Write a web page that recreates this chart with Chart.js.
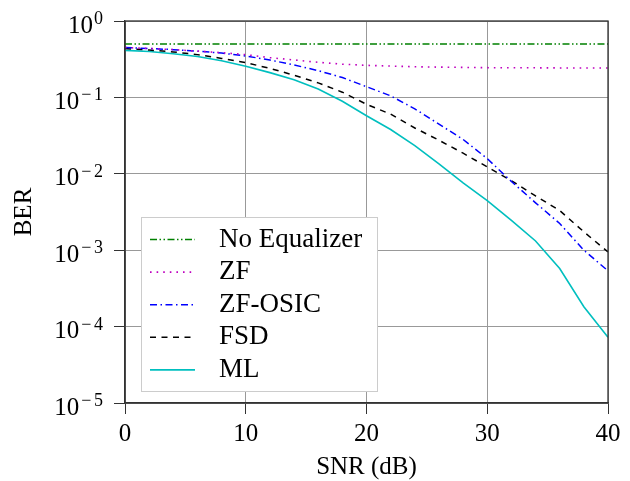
<!DOCTYPE html>
<html>
<head>
<meta charset="utf-8">
<script src="https://cdn.jsdelivr.net/npm/chart.js@4/dist/chart.umd.min.js"></script>
<style>
    body{
        margin:0;
        background:#fff;
    }
    #wrap{
        width:630px;
        height:481px;
    }
</style>
</head>
<body>
<div id="wrap">
    <canvas id="berChart"></canvas>
</div>
<script>

// SNR points (dB)
const snr = [0,2,4,6,8,10,12,14,16,18,20,22,24,26,28,30,32,34,36,38,40];

// BER
const noEqualizer = [0.5,0.5,0.5,0.5,0.5,0.5,0.5,0.5,0.5,0.5,0.5,0.5,0.5,0.5,0.5,0.5,0.5,0.5,0.5,0.5,0.5];
const zf = [0.449,0.437,0.422,0.403,0.385,0.363,0.331,0.309,0.288,0.272,0.263,0.257,0.252,0.249,0.247,0.245,0.244,0.244,0.243,0.243,0.243];
const zfOsic = [0.449,0.437,0.422,0.403,0.380,0.348,0.309,0.266,0.224,0.182,0.138,0.105,0.0708,0.0447,0.0282,0.0158,0.00794,0.00417,0.00224,0.00100,0.000537];
const fsd = [0.436,0.417,0.394,0.363,0.324,0.285,0.240,0.195,0.155,0.117,0.0813,0.0603,0.0398,0.0275,0.0186,0.0123,0.00813,0.00513,0.00331,0.00174,0.00095];
const ml = [0.413,0.398,0.372,0.343,0.302,0.255,0.211,0.170,0.129,0.0891,0.0575,0.0380,0.0234,0.0135,0.00759,0.00447,0.00245,0.00132,0.000575,0.000182,0.0000724];

// ticks
const xTicks = [0,10,20,30,40];
const yTicks = [1e-5,1e-4,1e-3,1e-2,1e-1,1];

const serif = "'Liberation Serif', 'Times New Roman', serif";

function pts(arr){
    return snr.map(function(s,i){
        return {x:s, y:arr[i]};
    });
}

// y labels as 10^n with a raised exponent
const powerLabels = {
    id:"powerLabels",
    afterDraw(chart){
        const ctx = chart.ctx;
        const y = chart.scales.y;
        const right = chart.chartArea.left - 22;
        ctx.save();
        ctx.fillStyle = "#000";
        ctx.textAlign = "right";
        ctx.textBaseline = "alphabetic";
        yTicks.forEach(function(v){
            const py = y.getPixelForValue(v);
            const e = Math.round(Math.log10(v));
            ctx.font = "18px " + serif;
            const digit = String(Math.abs(e));
            const dw = ctx.measureText(digit).width;
            ctx.fillText(digit, right, py + 3);
            let x10 = right - dw - 1;
            if(e < 0){
                const mx = right - dw - 2.5;
                ctx.fillText("\u2212", mx, py + 3);
                x10 = mx - ctx.measureText("\u2212").width - 2;
            }
            ctx.font = "25px " + serif;
            ctx.fillText("10", x10, py + 11.5);
        });
        ctx.restore();
    }
};

// frame on all four sides + legend inside plot
const frameAndLegend = {
    id:"frameAndLegend",
    afterDraw(chart){
        const ctx = chart.ctx;
        const a = chart.chartArea;
        ctx.save();
        ctx.strokeStyle = "#333";
        ctx.lineWidth = 1.3;
        ctx.strokeRect(a.left, a.top, a.right - a.left, a.bottom - a.top);

        const bx = a.left + 16;
        const by = a.top + 196;
        const bw = 236;
        const bh = 174;
        ctx.fillStyle = "#fff";
        ctx.fillRect(bx, by, bw, bh);
        ctx.strokeStyle = "#cccccc";
        ctx.lineWidth = 1;
        ctx.strokeRect(bx + 0.5, by + 0.5, bw, bh);

        ctx.font = "27px " + serif;
        ctx.textAlign = "left";
        ctx.textBaseline = "alphabetic";
        chart.data.datasets.forEach(function(ds,i){
            const ly = by + 22.5 + i * 32.6;
            ctx.strokeStyle = ds.borderColor;
            ctx.lineWidth = ds.borderWidth;
            ctx.setLineDash(ds.borderDash || []);
            ctx.beginPath();
            ctx.moveTo(bx + 9, ly);
            ctx.lineTo(bx + 54, ly);
            ctx.stroke();
            ctx.setLineDash([]);
            ctx.fillStyle = "#000";
            ctx.fillText(ds.label, bx + 78, ly + 7);
        });
        ctx.restore();
    }
};

new Chart(

    document.getElementById("berChart"),

    {
        type:"line",

        data:{
            datasets:[
                {
                    label:"No Equalizer",
                    data:pts(noEqualizer),
                    borderColor:"#008000",
                    borderWidth:1.5,
                    borderDash:[7,2.5,1.5,2.5,1.5,2.5]
                },
                {
                    label:"ZF",
                    data:pts(zf),
                    borderColor:"#bf00bf",
                    borderWidth:1.6,
                    borderDash:[1.6,5]
                },
                {
                    label:"ZF-OSIC",
                    data:pts(zfOsic),
                    borderColor:"#0000ff",
                    borderWidth:1.5,
                    borderDash:[7,3.5,1.5,3.5]
                },
                {
                    label:"FSD",
                    data:pts(fsd),
                    borderColor:"#000000",
                    borderWidth:1.5,
                    borderDash:[6,5.5]
                },
                {
                    label:"ML",
                    data:pts(ml),
                    borderColor:"#00bfbf",
                    borderWidth:1.6
                }
            ]
        },

        options:{
            responsive:true,
            maintainAspectRatio:false,
            animation:false,
            devicePixelRatio:1,
            layout:{
                padding:{top:21, right:22, left:0, bottom:0}
            },
            elements:{
                point:{radius:0},
                line:{tension:0, fill:false}
            },
            plugins:{
                legend:{display:false},
                tooltip:{enabled:false}
            },
            scales:{
                x:{
                    type:"linear",
                    min:0,
                    max:40,
                    afterBuildTicks(scale){
                        scale.ticks = xTicks.map(function(v){ return {value:v}; });
                    },
                    afterFit(scale){
                        scale.height = 78;
                    },
                    ticks:{
                        color:"#000",
                        padding:5,
                        maxRotation:0,
                        font:{family:serif, size:25}
                    },
                    grid:{
                        color:"#999",
                        lineWidth:1,
                        tickColor:"#333",
                        tickLength:11
                    },
                    border:{color:"#333", width:1.3},
                    title:{
                        display:true,
                        text:"SNR (dB)",
                        color:"#000",
                        font:{family:serif, size:25},
                        padding:{top:0, bottom:-1}
                    }
                },
                y:{
                    type:"logarithmic",
                    min:1e-5,
                    max:1,
                    afterBuildTicks(scale){
                        scale.ticks = yTicks.map(function(v){ return {value:v}; });
                    },
                    afterFit(scale){
                        scale.width = 125;
                    },
                    ticks:{display:false},
                    grid:{
                        color:"#999",
                        lineWidth:1,
                        tickColor:"#333",
                        tickLength:11
                    },
                    border:{color:"#333", width:1.3},
                    title:{
                        display:true,
                        text:"BER",
                        color:"#000",
                        font:{family:serif, size:25},
                        padding:{top:9, bottom:0}
                    }
                }
            }
        },

        plugins:[powerLabels, frameAndLegend]
    }
);

</script>
</body>
</html>
